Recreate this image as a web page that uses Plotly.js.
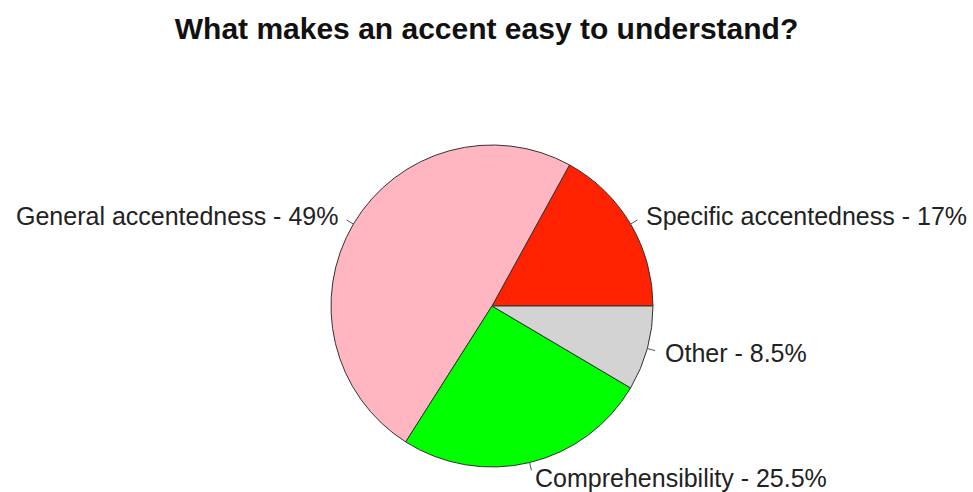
<!DOCTYPE html>
<html><head><meta charset="utf-8">
<script src="https://cdn.plot.ly/plotly-3.0.1.min.js"></script>
<style>html,body{margin:0;padding:0;background:#fff;}</style>
</head><body>
<div id="chart" style="width:973px;height:492px;"></div>
<script>
const categories = ["Specific accentedness", "General accentedness", "Comprehensibility", "Other"];
const percents = [17, 49, 25.5, 8.5];
const colors = ["#FF2200", "#FFB6C1", "#00FF00", "#D3D3D3"];

const W = 973, H = 492;
const cx = 492, cy = 306, R = 161;
const dom = {x: [(cx - R) / W, (cx + R) / W], y: [1 - (cy + R) / H, 1 - (cy - R) / H]};

const labels = categories.map((c, i) => c + " - " + percents[i] + "%");
const total = percents.reduce((a, b) => a + b, 0);

const annotations = [], shapes = [];
let cum = 0;
percents.forEach((v, i) => {
  const mid = (cum + v / 2) / total * 2 * Math.PI;
  cum += v;
  const c = Math.cos(mid), s = Math.sin(mid);
  const px = r => (cx + r * R * c) / W;
  const py = r => 1 - (cy - r * R * s) / H;
  shapes.push({type: "line", xref: "paper", yref: "paper", x0: px(1), y0: py(1), x1: px(1.05), y1: py(1.05),
    line: {color: "#555", width: 1}});
  annotations.push({xref: "paper", yref: "paper", x: px(1.1), y: py(1.1), text: labels[i], showarrow: false,
    xanchor: c > 0 ? "left" : "right", yanchor: "middle",
    font: {family: "Liberation Sans, Arial, sans-serif", size: 25, color: "#222"}});
});

// first slice starts at 3 o'clock and runs counterclockwise
const rotation = 90 - percents[0] / total * 360;

const data = [{
  type: "pie", values: percents, labels: categories, sort: false,
  direction: "counterclockwise", rotation: rotation,
  marker: {colors: colors, line: {color: "#333", width: 1}},
  textinfo: "none", hoverinfo: "label+percent", domain: dom, showlegend: false
}];

const layout = {
  width: W, height: H, margin: {l: 0, r: 0, t: 0, b: 0},
  paper_bgcolor: "#fff",
  title: {text: "<b>What makes an accent easy to understand?</b>", x: 0.5, xanchor: "center", y: 1 - 28 / H, yanchor: "middle",
    font: {family: "Liberation Sans, Arial, sans-serif", size: 30, color: "#111"}},
  annotations: annotations, shapes: shapes
};
Plotly.newPlot("chart", data, layout, {displayModeBar: false});
</script>
</body></html>
